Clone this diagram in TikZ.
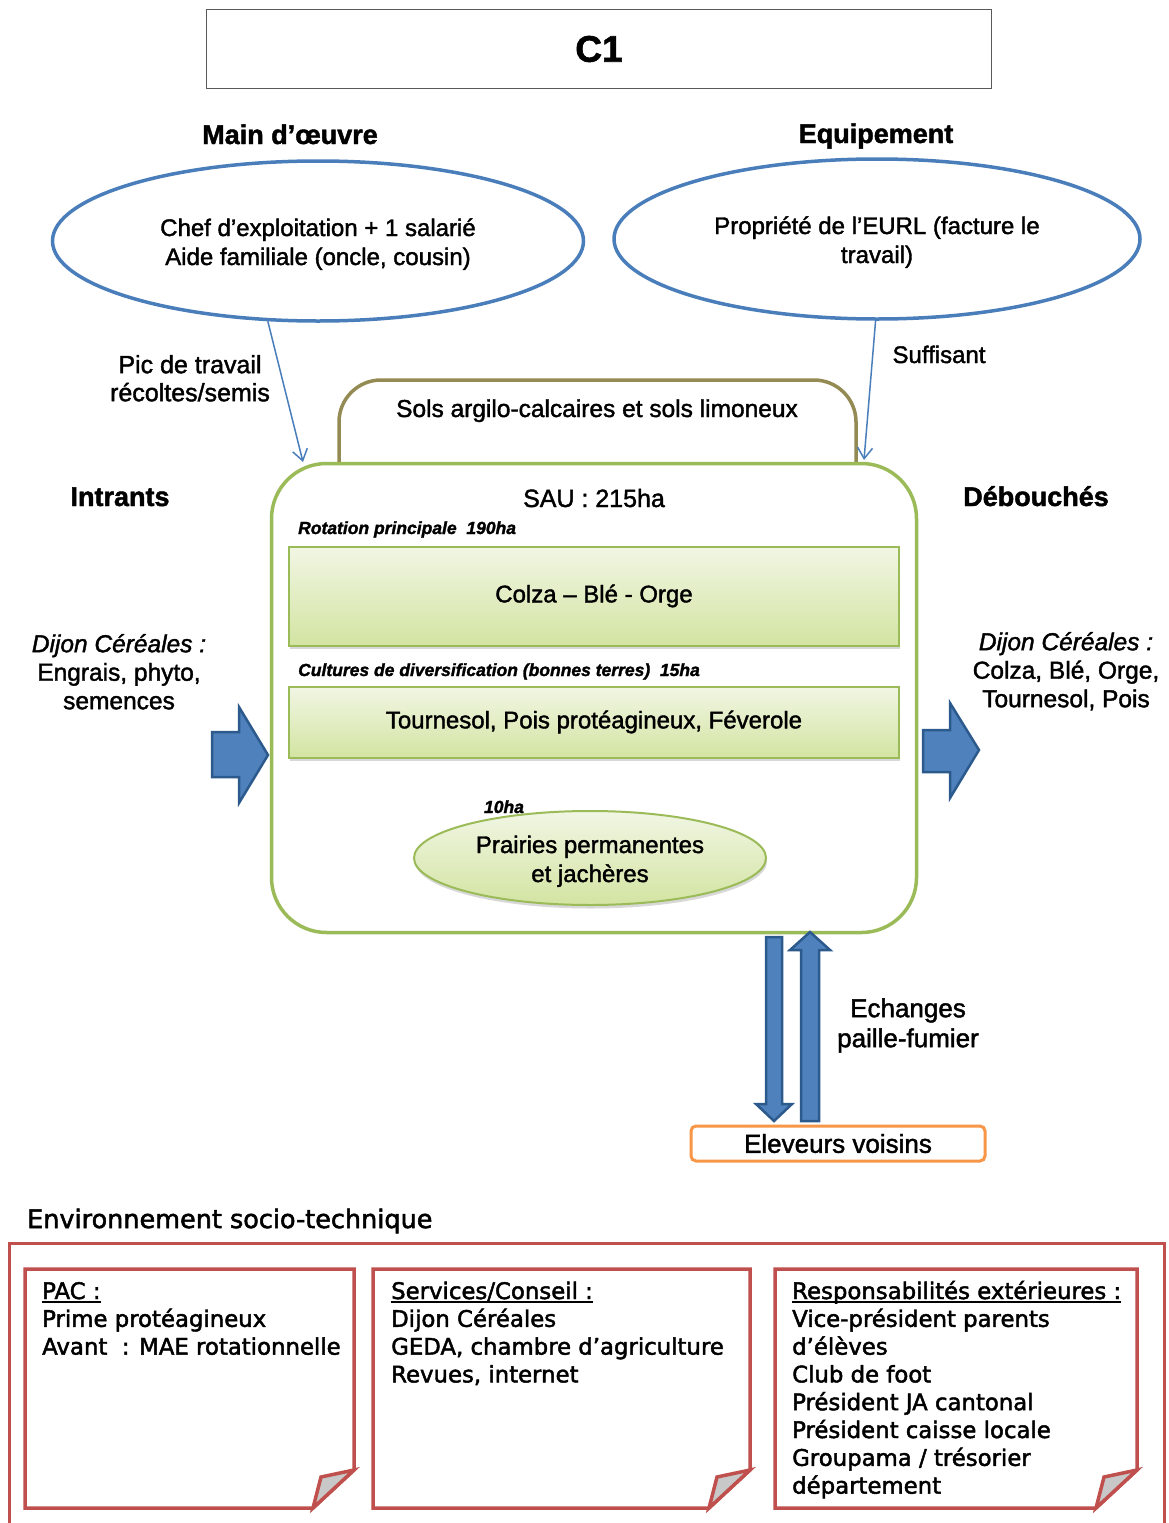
\documentclass[tikz,border=0pt]{standalone}
\usepackage{fontspec}
\setmainfont{Liberation Sans}[RawFeature={embolden=1.6}]
\newfontfamily\notefont{DejaVu Sans}[RawFeature={embolden=2}]
\usetikzlibrary{shapes.geometric,arrows.meta,shadows}

\definecolor{ellblue}{HTML}{4A7EBB}
\definecolor{arrfill}{HTML}{4F81BD}
\definecolor{arrline}{HTML}{2C5A8C}
\definecolor{leaf}{HTML}{9BBB59}
\definecolor{olive}{HTML}{948A54}
\definecolor{brick}{HTML}{C0504D}
\definecolor{amber}{HTML}{F79646}
\definecolor{framegray}{HTML}{595959}
\definecolor{foldgray}{HTML}{C8C8C8}
\definecolor{cropTop}{HTML}{F1F6E4}
\definecolor{cropBot}{HTML}{D3E4A2}

% strut fixing the height of the first line of a multi-line node
\newcommand\firstln{\rule{0pt}{1em}}
% thick underline for the note headings
\newcommand\ulin[1]{\setbox0\hbox{#1}\rlap{\rule[-3.5pt]{\wd0}{1.4pt}}\box0}

\tikzset{
  txt/.style={inner sep=0pt, font=\fontsize{24}{29}\selectfont},
  head/.style={inner sep=0pt, anchor=base, font=\bfseries\fontsize{27}{32}\selectfont},
  small/.style={inner sep=0pt, anchor=base west, font=\bfseries\itshape\fontsize{17.5}{21}\selectfont},
  oval/.style={ellipse, draw=ellblue, line width=3.5pt, inner sep=0pt, align=center,
    minimum height=160pt, font=\fontsize{24}{29}\selectfont},
  cropbox/.style={rectangle, draw=leaf, line width=2pt, top color=cropTop, bottom color=cropBot,
    drop shadow={shadow xshift=1pt, shadow yshift=-3.5pt, opacity=0.3},
    minimum width=610pt, inner sep=0pt, font=\fontsize{24}{29}\selectfont},
  link/.style={draw=ellblue, line width=1.5pt, -{Straight Barb[length=11pt,width=15pt]}},
  block/.style={fill=arrfill, draw=arrline, line width=2.5pt, line join=miter},
  note/.style={draw=brick, line width=3.5pt, line join=miter, fill=white},
  notetxt/.style={inner sep=0pt, anchor=north west, align=left,
    font=\notefont\fontsize{22.8}{27.8}\selectfont},
}

\begin{document}
\begin{tikzpicture}[x=1pt,y=-1pt]
\useasboundingbox (0,0) rectangle (1168,1523);
\clip (0,0) rectangle (1168,1523);
\fill[white] (0,0) rectangle (1168,1523);

% title
\node[draw=framegray, line width=1.5pt, minimum width=785pt, minimum height=79pt, inner sep=0pt,
  font=\bfseries\fontsize{37}{40}\selectfont] (title) at (599,49) {C1};

% labour and equipment
\node[head] (moh) at (290,144) {Main d’œuvre};
\node[head] (eqh) at (876,143) {Equipement};
\node[oval, minimum width=531pt] (mo) at (318,241)
  {\firstln Chef d’exploitation + 1 salarié\\Aide familiale (oncle, cousin)};
\node[oval, minimum width=526pt] (eq) at (877,239)
  {\firstln Propriété de l’EURL (facture le\\travail)};

% soils
\draw[olive, line width=3.5pt, rounded corners=42pt] (339,470) -- (339,380) -- (856,380) -- (856,470);
\node[txt, anchor=base, font=\fontsize{24.5}{29}\selectfont] (sols) at (597,417)
  {Sols argilo-calcaires et sols limoneux};

% farm area
\node[draw=leaf, line width=3.5pt, fill=white, rounded corners=55pt, minimum width=645pt,
  minimum height=469pt, inner sep=0pt] (sau) at (594,698) {};
\node[txt, anchor=base, font=\fontsize{25}{29}\selectfont] (saut) at (594,507) {SAU : 215ha};
\node[small] (rotl) at (298,534) {Rotation principale~~190ha};
\node[cropbox, minimum height=99pt] (rot) at (594,596) {Colza – Blé - Orge};
\node[small] (divl) at (298,676) {Cultures de diversification (bonnes terres)~~15ha};
\node[cropbox, minimum height=71pt] (div) at (594,722) {Tournesol, Pois protéagineux, Féverole};
\node[ellipse, draw=leaf, line width=2pt, top color=cropTop, bottom color=cropBot,
  drop shadow={shadow xshift=1pt, shadow yshift=-3.5pt, opacity=0.3},
  minimum width=352pt, minimum height=94pt, inner sep=0pt, align=center,
  font=\fontsize{24}{29}\selectfont] (pra) at (590,858)
  {\firstln Prairies permanentes\\et jachères};
\node[small, anchor=base] (pral) at (504,813) {10ha};

% links from labour and equipment
\coordinate (inL) at (303,462);
\coordinate (inR) at (864,460);
\draw[link] (mo.-122) -- (inL);
\draw[link] (eq.-91) -- (inR);
\node[txt, align=center, anchor=north, font=\fontsize{25}{28}\selectfont] (pic) at (190,348)
  {\firstln Pic de travail\\récoltes/semis};
\node[txt, anchor=base] (suf) at (939,363) {Suffisant};

% inputs and outputs
\node[head] (inh) at (120,506) {Intrants};
\node[head] (outh) at (1036,506) {Débouchés};
\node[txt, align=center, anchor=north, font=\fontsize{24.5}{28.5}\selectfont] (intxt) at (119,627.5)
  {\firstln\textit{Dijon Céréales :}\\Engrais, phyto,\\semences};
\node[txt, align=center, anchor=north, font=\fontsize{24.5}{28.5}\selectfont] (outtxt) at (1066,625.5)
  {\firstln\textit{Dijon Céréales :}\\Colza, Blé, Orge,\\Tournesol, Pois};
\draw[block] (212,732) -- (239,732) -- (239,707) -- (268,755) -- (239,803) -- (239,777) -- (212,777) -- cycle;
\draw[block] (923,730) -- (950,730) -- (950,703) -- (979,750) -- (950,798) -- (950,772) -- (923,772) -- cycle;

% straw / manure exchange
\node[draw=amber, line width=3pt, rounded corners=5pt, minimum width=294pt, minimum height=35pt,
  inner sep=0pt, font=\fontsize{26}{30}\selectfont] (elev) at (838,1143.5) {Eleveurs voisins};
\draw[block] (766,937) -- (782,937) -- (782,1104) -- (792,1104) -- (774,1121) -- (756,1104) -- (766,1104) -- cycle;
\draw[block] (801,1121) -- (819,1121) -- (819,950) -- (830,950) -- (810,932) -- (790,950) -- (801,950) -- cycle;
\node[txt, align=center, anchor=north, font=\fontsize{26}{30}\selectfont] (ech) at (908,991)
  {\firstln Echanges\\paille-fumier};

% socio-technical environment
\node[inner sep=0pt, anchor=base west, font=\notefont\fontsize{25.5}{30}\selectfont] (envh) at (27,1228)
  {Environnement socio-technique};
\draw[brick, line width=3pt] (9,1243) rectangle (1164,1580);
\foreach \l/\r in {25/354, 373/750, 775/1137} {
  \draw[note] (\l,1269) -- (\r,1269) -- (\r,1470) -- ({\r-41},1508) -- (\l,1508) -- cycle;
  \draw[note, fill=foldgray] (\r,1470) -- ({\r-33},1477) -- ({\r-41},1508) -- cycle;
}
\node[notetxt] (pac) at (42,1276)
  {\firstln\ulin{PAC :}\\Prime protéagineux\\Avant~~: MAE rotationnelle};
\node[notetxt] (serv) at (391,1276)
  {\firstln\ulin{Services/Conseil :}\\Dijon Céréales\\GEDA, chambre d’agriculture\\Revues, internet};
\node[notetxt] (resp) at (792,1276)
  {\firstln\ulin{Responsabilités extérieures :}\\Vice-président parents\\d’élèves\\Club de foot\\Président JA cantonal\\Président caisse locale\\Groupama / trésorier\\département};
\end{tikzpicture}
\end{document}
